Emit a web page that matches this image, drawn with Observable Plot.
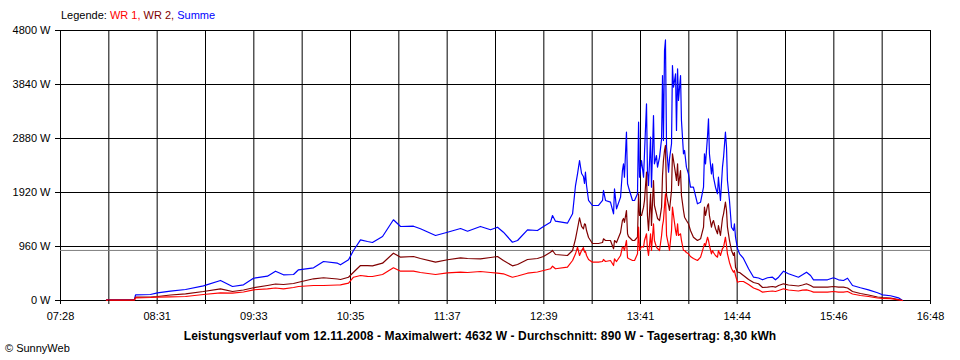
<!DOCTYPE html>
<html><head><meta charset="utf-8">
<script src="https://cdn.jsdelivr.net/npm/d3@7"></script>
<script src="https://cdn.jsdelivr.net/npm/@observablehq/plot@0.6"></script>
<style>
body{margin:0;background:#fff;font-family:"Liberation Sans",Arial,sans-serif;}
#wrap{position:relative;width:960px;height:360px;overflow:hidden;background:#fff;}
#chart{position:absolute;left:0;top:0;}
#legend{position:absolute;left:61px;top:9px;font-size:11px;line-height:13px;white-space:nowrap;}
#title{position:absolute;left:0;width:960px;text-align:center;top:329px;font-size:12px;letter-spacing:0.1px;font-weight:bold;line-height:14px;white-space:nowrap;}
#credit{position:absolute;left:5px;top:342px;font-size:11px;line-height:13px;white-space:nowrap;}
</style></head>
<body>
<div id="wrap">
<div id="chart"></div>
<div id="legend"></div>
<div id="title"></div>
<div id="credit"></div>
</div>
<script>
// time in minutes since midnight
const minutes = [
477.6,486.6,495.6,496.3,505.9,510.4,518.8,528.5,540.0,551.0,
558.7,565.8,572.2,581.2,586.4,591.5,598.0,601.2,610.9,617.3,
626.3,628.2,633.4,636.6,641.1,645.6,648.8,655.3,662.3,666.9,
675.2,679.7,689.4,697.1,705.5,710.0,718.3,724.8,729.3,733.1,
738.9,742.2,748.6,755.0,758.9,763.4,764.7,766.6,774.3,777.6,
779.5,780.8,782.1,783.4,784.6,785.3,785.9,786.6,787.9,790.4,
794.3,796.9,797.5,798.8,802.0,804.0,804.6,805.9,808.5,809.7,
810.4,811.0,812.3,813.0,813.6,816.2,817.5,819.4,820.1,820.7,
822.0,823.3,823.9,825.2,825.8,826.5,827.8,828.4,829.7,830.3,
831.6,832.3,833.6,834.9,835.5,836.1,836.8,837.4,838.1,839.4,
840.0,841.3,841.9,842.6,843.9,844.5,845.2,845.8,847.1,847.7,
849.0,849.7,850.9,852.2,853.5,855.4,858.0,860.0,861.9,862.5,
863.2,864.5,865.1,865.7,867.0,867.7,868.3,869.6,870.9,871.5,
872.8,874.1,874.8,876.0,876.7,877.3,878.6,879.9,881.2,881.8,
882.5,883.8,885.1,887.6,890.9,894.1,897.3,899.9,903.1,906.3,
908.2,910.2,913.4,916.6,919.8,923.0,925.6,928.2,930.8,932.7,
941.7,945.6,948.8,952.0,954.6,957.8,962.9,968.1,973.9,977.1,
982.3,987.4,990.0];
// Summe (W)
const summe = [
12,12,18,101,107,137,165,196,261,356,
249,279,396,432,521,457,462,546,581,693,
663,635,724,889,1079,1049,1031,1138,1435,1316,
1321,1275,1156,1214,1280,1232,1316,1257,1303,1214,
1036,1067,1257,1244,1316,1392,1511,1410,1374,1541,
2044,2252,2489,2258,2204,2080,2281,2044,1778,1689,
1689,1778,1956,1778,1748,1541,1986,1630,1837,2311,
2430,2192,2992,2075,2014,1778,1778,1897,3170,2192,
2489,2192,2608,3497,2311,2044,2903,2014,3289,2430,
2578,2370,2548,2875,4000,2844,4444,4632,2725,2281,
2519,2786,4178,3792,4030,3022,4119,3556,4000,3200,
2608,2667,2370,2252,2014,2014,1719,1748,2014,2608,
2430,2933,3230,2608,2252,2430,2192,2014,1897,2192,
1778,2370,2548,2992,2725,2133,1778,1303,1244,1364,
1125,919,830,747,564,414,400,368,404,414,
368,414,521,475,444,414,457,503,444,368,
368,404,368,356,396,267,226,190,137,101,
84,48,0];
// WR 2 (W)
const wr2 = [
6,6,9,59,62,71,98,119,160,208,
160,187,226,267,293,284,302,325,386,404,
382,373,414,503,622,619,617,663,841,770,
782,747,681,724,759,747,741,764,782,711,
617,640,729,747,782,859,889,818,800,889,
1097,1280,1470,1316,1275,1364,1351,1244,1120,1013,
1013,1031,1097,1067,1067,919,1067,1031,1209,1422,
1458,1387,1600,1186,1138,1067,1067,1125,1897,1511,
1511,1659,1778,2281,1511,1244,1897,1333,2133,1689,
1541,1458,1422,1659,2222,2489,2667,2756,1867,1689,
1600,1956,2608,2489,2252,2133,2430,2044,2311,1867,
1600,1481,1422,1364,1244,1125,1067,1097,1303,1659,
1511,1689,1719,1511,1303,1387,1422,1280,1186,1333,
1156,1458,1541,1748,1600,1303,1067,889,800,853,
592,503,498,444,373,320,297,231,237,249,
237,267,297,276,267,258,276,297,267,237,
237,249,237,237,222,160,124,98,62,53,
44,18,0];
// WR 1 (W)
const wr1 = [
6,6,7,48,53,59,66,71,107,137,
130,151,190,208,222,208,231,249,267,267,
276,279,308,414,444,430,427,462,581,521,
521,498,462,492,503,498,516,498,485,475,
414,436,485,507,533,564,610,564,592,711,
830,948,800,889,942,859,871,800,729,681,
681,693,729,693,711,622,741,693,800,948,
942,889,1067,759,747,711,711,830,1303,889,
960,948,1067,1186,924,800,1186,889,1364,1067,
948,924,889,1156,1333,1422,1689,1897,1156,978,
889,1244,1659,1511,1244,1156,1364,1156,1186,1067,
889,889,853,830,782,747,711,770,948,1013,
978,1125,1067,978,830,889,853,800,770,889,
800,924,948,1125,978,830,676,569,503,533,
444,325,338,338,284,222,190,148,160,169,
160,178,208,187,178,169,183,190,169,148,
148,160,148,148,160,116,89,71,44,36,
32,12,0];

const xTickLabels = ["07:28","08:31","09:33","10:35","11:37","12:39","13:41","14:44","15:46","16:48"];
const xDomain = [448, 1008];
const yTicks = [0, 960, 1920, 2880, 3840, 4800];
const average = 890;
const legendItems = [["WR 1", "#ff0000"], ["WR 2", "#800000"], ["Summe", "#0000ff"]];
const titleText = "Leistungsverlauf vom 12.11.2008 - Maximalwert: 4632 W - Durchschnitt: 890 W - Tagesertrag: 8,30 kWh";
const creditText = "\u00a9 SunnyWeb";

const rows = minutes.map((t, i) => ({t, summe: summe[i], wr2: wr2[i], wr1: wr1[i]}));
const xTicks = d3.range(19).map(i => xDomain[0] + i * (xDomain[1] - xDomain[0]) / 18);
const labelTicks = xTicks.filter((d, i) => i % 2 === 0);
const labelMap = new Map(labelTicks.map((d, i) => [d, xTickLabels[i]]));

const chart = Plot.plot({
  width: 960, height: 360,
  marginLeft: 60, marginRight: 30, marginTop: 30, marginBottom: 60,
  x: {domain: xDomain, axis: null, label: null},
  y: {domain: [0, 4800], axis: null, label: null},
  style: {fontFamily: "Liberation Sans, Arial, sans-serif", fontSize: "11px", color: "black", background: "transparent"},
  marks: [
    Plot.ruleX(xTicks, {stroke: "black", strokeWidth: 1}),
    Plot.ruleY(yTicks, {stroke: "black", strokeWidth: 1}),
    Plot.ruleY([average], {stroke: "#808080", strokeWidth: 1}),
    Plot.lineY(rows, {x: "t", y: "summe", stroke: "#0000ff", strokeWidth: 1.2}),
    Plot.lineY(rows, {x: "t", y: "wr2", stroke: "#800000", strokeWidth: 1.2}),
    Plot.lineY(rows, {x: "t", y: "wr1", stroke: "#ff0000", strokeWidth: 1.2}),
    Plot.axisX(xTicks, {tickSize: 4, tickFormat: () => "", stroke: "black", strokeOpacity: 1, label: null}),
    Plot.axisX(labelTicks, {tickSize: 0, tickPadding: 12, tickFormat: d => labelMap.get(d), fill: "black", label: null}),
    Plot.axisY(yTicks, {tickSize: 5, tickPadding: 5, tickFormat: d => d + " W", stroke: "black", strokeOpacity: 1, fill: "black", label: null})
  ]
});
document.getElementById("chart").appendChild(chart);

const leg = document.getElementById("legend");
leg.appendChild(document.createTextNode("Legende: "));
legendItems.forEach(([name, color], i) => {
  const s = document.createElement("span");
  s.style.color = color;
  s.textContent = name + (i < legendItems.length - 1 ? ", " : "");
  leg.appendChild(s);
});
document.getElementById("title").textContent = titleText;
document.getElementById("credit").textContent = creditText;
</script>
</body></html>
